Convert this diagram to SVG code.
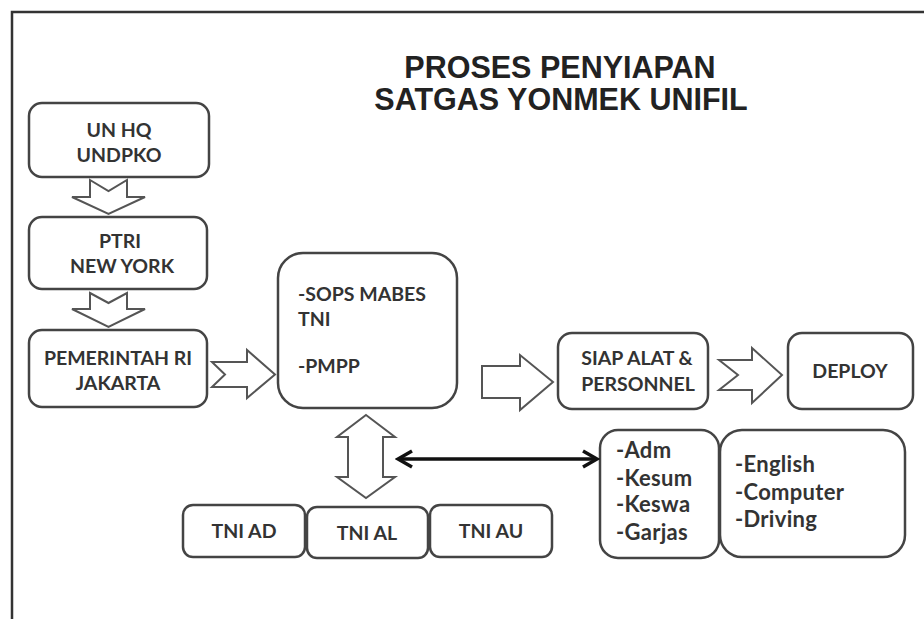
<svg xmlns="http://www.w3.org/2000/svg" width="924" height="619" viewBox="0 0 924 619">
<defs>
<style>
.box{fill:#fff;stroke:#444;stroke-width:2.5}
.blk{fill:#fff;stroke:#555;stroke-width:2;stroke-linejoin:miter}
.lbl{font-family:Lato,"Liberation Sans",sans-serif;font-weight:bold;font-size:19.5px;fill:#333;text-anchor:middle}
.lst{font-family:Lato,"Liberation Sans",sans-serif;font-weight:bold;font-size:22px;fill:#333;letter-spacing:0.3px}
.ttl{font-family:"Liberation Sans",Arial,sans-serif;font-weight:bold;font-size:30.5px;fill:#222;text-anchor:middle}
</style>
<marker id="ah" viewBox="0 0 20 20" refX="17" refY="10" markerWidth="20" markerHeight="20" markerUnits="userSpaceOnUse" orient="auto-start-reverse">
<path d="M3,2 L17,10 L3,18" fill="none" stroke="#111" stroke-width="3.5"/>
</marker>
</defs>
<rect width="924" height="619" fill="#fff"/>
<path d="M12,619 L12,12 L924,12" fill="none" stroke="#333" stroke-width="2.5"/>
<g id="title">
<text class="ttl" x="560" y="78">PROSES PENYIAPAN</text>
<text class="ttl" x="561" y="110">SATGAS YONMEK UNIFIL</text>
</g>
<g id="unhq"><rect class="box" x="29" y="103" width="180" height="74" rx="13"/>
<text class="lbl" x="119" y="137">UN HQ</text><text class="lbl" x="119" y="162">UNDPKO</text></g>
<g id="ptri"><rect class="box" x="29" y="217" width="178" height="72" rx="13"/>
<text class="lbl" x="120" y="248">PTRI</text><text class="lbl" x="122" y="273">NEW YORK</text></g>
<g id="pemerintah"><rect class="box" x="29" y="330" width="178" height="77" rx="13"/>
<text class="lbl" x="118" y="365">PEMERINTAH RI</text><text class="lbl" x="118" y="390">JAKARTA</text></g>
<g id="sops"><rect class="box" x="278" y="253" width="179" height="155" rx="25"/>
<text class="lbl" x="298" y="301" style="text-anchor:start">-SOPS MABES</text>
<text class="lbl" x="298" y="326" style="text-anchor:start">TNI</text>
<text class="lbl" x="298" y="373" style="text-anchor:start">-PMPP</text></g>
<g id="siap"><rect class="box" x="558" y="333" width="150" height="76" rx="14"/>
<text class="lbl" x="637" y="365">SIAP ALAT &amp;</text><text class="lbl" x="638" y="391">PERSONNEL</text></g>
<g id="deploy"><rect class="box" x="788" y="333" width="125" height="76" rx="14"/>
<text class="lbl" x="850" y="378">DEPLOY</text></g>
<g id="tniad"><rect class="box" x="183" y="505" width="122" height="52" rx="10"/>
<text class="lbl" x="244" y="538">TNI AD</text></g>
<g id="tnial"><rect class="box" x="307" y="507" width="121" height="51" rx="10"/>
<text class="lbl" x="367" y="540">TNI AL</text></g>
<g id="tniau"><rect class="box" x="430" y="505" width="122" height="52" rx="10"/>
<text class="lbl" x="491" y="538">TNI AU</text></g>
<g id="adm"><rect class="box" x="600" y="430" width="119" height="128" rx="18"/>
<text class="lst" x="616" y="458">-Adm</text><text class="lst" x="616" y="486">-Kesum</text>
<text class="lst" x="616" y="512">-Keswa</text><text class="lst" x="616" y="540">-Garjas</text></g>
<g id="english"><rect class="box" x="720" y="430" width="185" height="127" rx="22"/>
<text class="lst" x="735" y="472">-English</text><text class="lst" x="735" y="500">-Computer</text>
<text class="lst" x="735" y="527">-Driving</text></g>
<g id="connectors">
<path class="blk" d="M90,180 L108.5,191 L127,180 L127,197 L145,197 L108.5,214 L72,197 L90,197 Z"/>
<path class="blk" d="M90,293 L108.5,303 L127,293 L127,309 L145,309 L108.5,327 L72,309 L90,309 Z"/>
<path class="blk" d="M212,362 L225,374.5 L212,387 L247,387 L247,398 L275,374.5 L247,350 L247,362 Z"/>
<path class="blk" d="M482,366 L520,366 L520,355 L553,382 L520,410 L520,398 L482,398 Z"/>
<path class="blk" d="M719,360 L738,375 L719,390 L752,390 L752,403 L782,375 L752,348 L752,360 Z"/>
<path class="blk" d="M366,415 L395,437 L383,437 L383,477 L395,477 L366,498 L337,477 L348,477 L348,437 L337,437 Z"/>
<line x1="398" y1="459" x2="597" y2="459" stroke="#111" stroke-width="3.5" marker-start="url(#ah)" marker-end="url(#ah)"/>
</g>
</svg>
